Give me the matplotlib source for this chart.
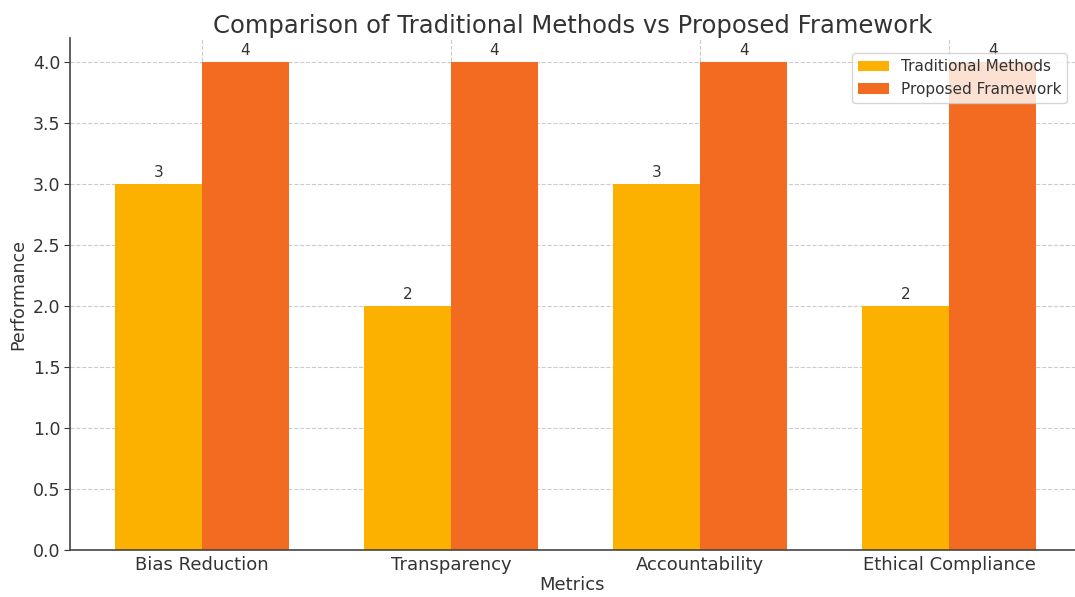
import matplotlib
matplotlib.use("Agg")
import matplotlib.pyplot as plt
import numpy as np

metrics = ["Bias Reduction", "Transparency", "Accountability", "Ethical Compliance"]
traditional = [3, 2, 3, 2]
proposed = [4, 4, 4, 4]

TXT = "#333333"
plt.rcParams.update({"font.family": "DejaVu Sans", "text.color": TXT,
                     "axes.labelcolor": TXT, "xtick.color": TXT, "ytick.color": TXT})

fig = plt.figure(figsize=(10.75, 5.97), dpi=100)
ax = fig.add_axes([0.0651, 0.0787, 0.9349, 0.8576])

x = np.arange(len(metrics))
w = 0.35
b1 = ax.bar(x - w / 2, traditional, w, color="#FCB000", label="Traditional Methods", zorder=2)
b2 = ax.bar(x + w / 2, proposed, w, color="#F26B21", label="Proposed Framework", zorder=2)
ax.bar_label(b1, padding=3, fontsize=11, color=TXT)
ax.bar_label(b2, padding=3, fontsize=11, color=TXT)

ax.set_xlim(-0.53, 3.506)
ax.set_ylim(0, 4.2)
ax.set_xticks(x)
ax.set_xticklabels(metrics, fontsize=13)
ax.set_yticks(np.arange(0, 4.01, 0.5))
ax.tick_params(axis="x", length=0, pad=4)
ax.tick_params(axis="y", labelsize=12.5, length=4, pad=3)
ax.set_xlabel("Metrics", fontsize=13, labelpad=2)
ax.set_ylabel("Performance", fontsize=12.5, labelpad=4)
ax.set_title("Comparison of Traditional Methods vs Proposed Framework",
             fontsize=17.5, color=TXT, pad=3)

ax.grid(True, linestyle="--", color="#cccccc", linewidth=0.8, zorder=0)
ax.set_axisbelow(True)
for s in ("top", "right"):
    ax.spines[s].set_visible(False)
for s in ("left", "bottom"):
    ax.spines[s].set_color("#444444")
    ax.spines[s].set_linewidth(1.2)

ax.legend(loc="upper right", fontsize=11, bbox_to_anchor=(1.0, 0.985))

fig.savefig("out.png", dpi=100)
